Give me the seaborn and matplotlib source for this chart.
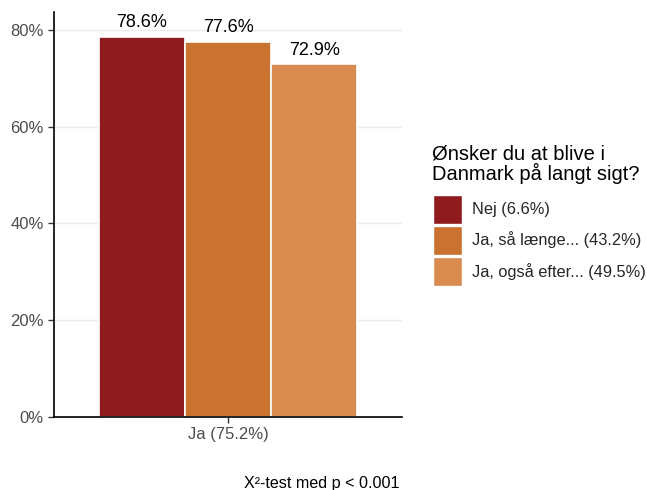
import numpy as np
import pandas as pd
import matplotlib
matplotlib.use("Agg")
import matplotlib.pyplot as plt
import seaborn as sns
from matplotlib.patches import Patch

# data
categories = ["Ja (75.2%)"]
groups = ["Nej (6.6%)", "Ja, så længe... (43.2%)", "Ja, også efter... (49.5%)"]
values = [78.6, 77.6, 72.9]
colors = ["#901B1F", "#CA7230", "#DA8C50"]
yticks = [0, 20, 40, 60, 80]
legend_title = "Ønsker du at blive i\nDanmark på langt sigt?"
caption = "X²-test med p < 0.001"

df = pd.DataFrame({"x": categories * len(groups), "group": groups, "value": values})

sns.set_theme(style="white")
plt.rcParams["font.family"] = ["Liberation Sans", "DejaVu Sans"]

fig = plt.figure(figsize=(6.47, 4.90), dpi=100)
ax = fig.add_axes([54 / 647, 1 - 417 / 490, 348 / 647, 405 / 490])

sns.barplot(data=df, x="x", y="value", hue="group", hue_order=groups,
            palette=colors, width=0.742, saturation=1, ax=ax,
            edgecolor="white", linewidth=1.2, legend=False)

for p, v in zip(ax.patches, values):
    ax.text(p.get_x() + p.get_width() / 2, v + 1.1, f"{v:.1f}%",
            ha="center", va="bottom", fontsize=13, color="black")

ax.set_xlim(-0.5, 0.5)
ax.set_ylim(0, 83.7)
ax.set_yticks(yticks)
ax.set_yticklabels([f"{t}%" for t in yticks])
ax.yaxis.grid(True, color="#EBEBEB", linewidth=1)
ax.set_axisbelow(True)
ax.set_xlabel("")
ax.set_ylabel("")
for s in ["top", "right"]:
    ax.spines[s].set_visible(False)
for s in ["left", "bottom"]:
    ax.spines[s].set_color("black")
    ax.spines[s].set_linewidth(1.2)
ax.tick_params(axis="both", colors="#4D4D4D", labelsize=12, length=4,
               width=1, left=True, bottom=True)
ax.tick_params(axis="both", color="#333333")

# legend title as separate text for tighter control of spacing
fig.text(432 / 647, 1 - 164 / 490, legend_title, ha="left", va="center",
         fontsize=14.5, linespacing=0.97, color="black")

handles = [Patch(facecolor=c, edgecolor="white", label=g) for g, c in zip(groups, colors)]
leg = fig.legend(handles=handles, loc="upper left",
                 bbox_to_anchor=(426 / 647, 1 - 188 / 490), frameon=False,
                 fontsize=11.8, handlelength=1.8,
                 handleheight=2.35, labelspacing=0.13, handletextpad=0.6,
                 borderaxespad=0)

fig.text(400 / 647, 1 - 483 / 490, caption, ha="right", va="center",
         fontsize=11.6, color="black")

fig.savefig("out.png", dpi=100)
